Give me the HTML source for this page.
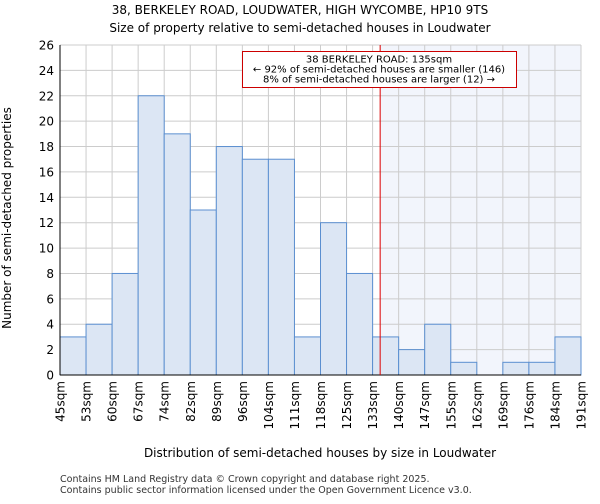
<!DOCTYPE html>
<html><head><meta charset="utf-8"><style>
body{margin:0;background:#fff;font-family:"DejaVu Sans","Liberation Sans",sans-serif}
</style></head><body>
<svg id="chart" width="600" height="500" xmlns="http://www.w3.org/2000/svg" font-family="DejaVu Sans, Liberation Sans, sans-serif">
<text x="300" y="14" font-size="12" text-anchor="middle">38, BERKELEY ROAD, LOUDWATER, HIGH WYCOMBE, HP10 9TS</text>
<text x="300" y="32" font-size="12" text-anchor="middle">Size of property relative to semi-detached houses in Loudwater</text>
<g id="plot"></g>
<text x="320" y="457" font-size="12" text-anchor="middle">Distribution of semi-detached houses by size in Loudwater</text>
<text transform="translate(11,218) rotate(-90)" font-size="12" text-anchor="middle">Number of semi-detached properties</text>
<text x="60" y="482" font-size="9.5" fill="#333">Contains HM Land Registry data © Crown copyright and database right 2025.</text>
<text x="60" y="493" font-size="9.5" fill="#333">Contains public sector information licensed under the Open Government Licence v3.0.</text>
</svg>
<script>
const categories=["45sqm","53sqm","60sqm","67sqm","74sqm","82sqm","89sqm","96sqm","104sqm","111sqm","118sqm","125sqm","133sqm","140sqm","147sqm","155sqm","162sqm","169sqm","176sqm","184sqm","191sqm"];
const counts=[3,4,8,22,19,13,18,17,17,3,12,8,3,2,4,1,0,1,1,3];
const yTicks=[0,2,4,6,8,10,12,14,16,18,20,22,24,26];
const markerBin=12.29;
const NS="http://www.w3.org/2000/svg";
const L=60,R=581,T=45,B=375,yMax=26;
const bw=(R-L)/counts.length;
const x=i=>L+i*bw;
const y=v=>B-v/yMax*(B-T);
const g=document.getElementById('plot');
function mk(t,a){const e=document.createElementNS(NS,t);for(const k in a)e.setAttribute(k,a[k]);g.appendChild(e);return e;}
let e;
const mx=x(markerBin);
e=mk('rect',{x:mx,y:T,width:R-mx,height:B-T,fill:'#f2f5fc'});


yTicks.forEach(v=>{
  e=mk('line',{x1:L,x2:R,y1:y(v),y2:y(v),stroke:'#ccc','stroke-width':1});
  
  
  e=mk('text',{x:L-6,y:y(v)+4.5,'font-size':12,'text-anchor':'end'});e.textContent=v;
  
  
});
for(let i=0;i<=counts.length;i++){
  e=mk('line',{x1:x(i),x2:x(i),y1:T,y2:B,stroke:'#ccc','stroke-width':1});
  
  
}
counts.forEach((c,i)=>{
  e=mk('rect',{x:x(i),y:y(c),width:bw,height:B-y(c),fill:'#dce6f4',stroke:'#5b8fd0','stroke-width':1});
  
  
});
categories.forEach((c,i)=>{
  const tx=x(i);
  e=mk('text',{transform:`translate(${tx+4.5},${B+6}) rotate(-90)`,'font-size':12,'text-anchor':'end'});e.textContent=c;
  
  
});
e=mk('line',{x1:L,x2:L,y1:T,y2:B,stroke:'#000','stroke-width':1});


e=mk('line',{x1:L,x2:R,y1:B,y2:B,stroke:'#000','stroke-width':1});


e=mk('line',{x1:mx,x2:mx,y1:T,y2:B,stroke:'#d00','stroke-width':1});


e=mk('rect',{x:242.5,y:51.5,width:274,height:36,fill:'#fff',stroke:'#c00','stroke-width':1});


["38 BERKELEY ROAD: 135sqm","← 92% of semi-detached houses are smaller (146)","8% of semi-detached houses are larger (12) →"].forEach((s,i)=>{
  e=mk('text',{x:379,y:62.5+i*10,'font-size':10,'text-anchor':'middle'});e.textContent=s;
  
  
});
</script>
</body></html>
